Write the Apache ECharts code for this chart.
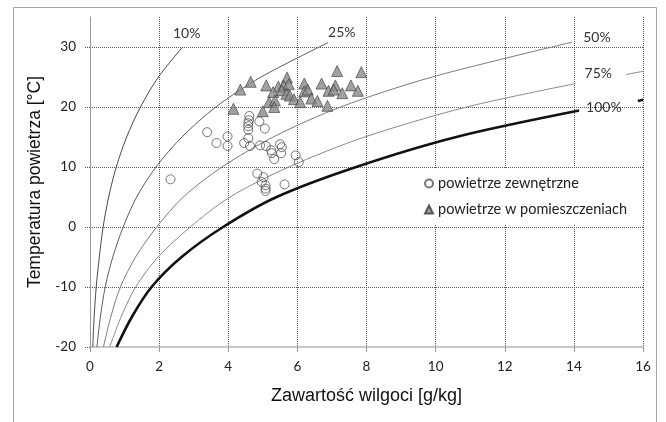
<!DOCTYPE html>
<html>
<head>
<meta charset="utf-8">
<title>Wykres Molliera</title>
<script src="https://cdn.jsdelivr.net/npm/echarts@6/dist/echarts.min.js"></script>
<style>
  html, body { margin: 0; padding: 0; background: #fff; }
  #chart { width: 666px; height: 422px; }
</style>
</head>
<body>
<div id="chart"></div>
<script>
// krzywe wilgotności względnej: temperatura [°C] i zawartość wilgoci [g/kg]
const temps10 = [-20, -15, -10, -5, 0, 5, 10, 15, 20, 25, 30];
const moist10 = [0.08, 0.12, 0.18, 0.27, 0.38, 0.54, 0.76, 1.06, 1.46, 1.98, 2.68];
const temps25 = [-20, -15, -10, -5, 0, 5, 10, 15, 20, 25, 30.7];
const moist25 = [0.2, 0.3, 0.44, 0.66, 0.96, 1.35, 1.91, 2.66, 3.64, 4.95, 6.88];
const temps50 = [-20, -15, -10, -5, 0, 5, 10, 15, 20, 25, 30.8];
const moist50 = [0.39, 0.6, 0.88, 1.32, 1.93, 2.7, 3.82, 5.3, 7.25, 9.9, 13.95];
const temps75 = [-20, -15, -10, -5, 0, 5, 10, 15, 20, 23.9];
const moist75 = [0.57, 0.9, 1.32, 1.97, 2.9, 4.05, 5.75, 7.95, 10.9, 14.05];
const temps100 = [-20, -15, -10, -5, 0, 5, 10, 15, 19.4];
const moist100 = [0.77, 1.21, 1.78, 2.65, 3.85, 5.4, 7.7, 10.6, 14.15];
// odcinki krzywych za etykietami (prawa krawędź)
const tail75Temps = [25.4, 25.95];
const tail75Moist = [15.5, 16];
const tail100Temps = [21.0, 21.2];
const tail100Moist = [15.85, 16];
const rhLabels = ['10%', '25%', '50%', '75%', '100%'];

// pomiary
const outdoorMoist = [4.61, 4.60, 4.58, 4.58, 4.58, 4.90, 5.06, 3.39, 3.66, 3.98, 3.98, 4.46, 4.58, 4.63, 4.92, 5.09,
  5.24, 5.26, 5.33, 5.50, 5.55, 5.53, 5.95, 6.04, 4.84, 5.02, 4.97, 5.08, 5.08, 5.08, 5.63, 2.33];
const outdoorTemp = [18.5, 17.8, 17.3, 16.8, 16.2, 17.6, 16.4, 15.8, 14.0, 15.1, 13.5, 14.0, 14.8, 13.5, 13.6, 13.5,
  12.8, 12.3, 11.3, 13.8, 13.3, 12.3, 11.95, 10.8, 8.9, 8.3, 7.5, 6.95, 6.4, 6.0, 7.1, 7.95];
const indoorMoist = [7.15, 7.85, 5.7, 4.65, 4.35, 5.1, 5.45, 5.6, 5.75, 6.2, 6.7, 7.1, 7.55, 5.3, 5.55, 5.68, 5.78,
  6.2, 6.3, 6.9, 7.05, 7.3, 7.75, 5.18, 5.35, 5.33, 5.9, 6.08, 6.4, 6.58, 6.87, 4.15, 5.0];
const indoorTemp = [26.0, 25.8, 24.9, 24.2, 22.9, 23.6, 23.4, 23.6, 23.8, 23.9, 23.9, 23.6, 23.6, 22.5, 22.8, 22.2, 21.9,
  22.6, 22.9, 22.7, 22.9, 22.3, 22.7, 20.8, 21.1, 20.0, 21.3, 20.8, 21.4, 21.0, 20.2, 19.7, 19.3];

const xTicks = [0, 16, 2];   // min, max, interval
const yTicks = [-20, 35, 10];

function pairs(xs, ys) {
  return xs.map((x, i) => [x, ys[i]]);
}

// ostatni punkt krzywej niesie etykietę
function curveData(xs, ys, text, pos, offset) {
  const d = pairs(xs, ys);
  const last = d.pop();
  d.push({
    value: last,
    label: { show: true, formatter: text, position: pos, offset: offset }
  });
  return d;
}

function curve(name, data, color, width) {
  return {
    name: name,
    type: 'line',
    data: data,
    smooth: 0.3,
    showSymbol: true,
    symbol: 'circle',
    symbolSize: 0,
    silent: true,
    lineStyle: { color: color, width: width },
    itemStyle: { color: color },
    label: { show: false, color: '#333', fontFamily: 'Lato', fontSize: 14 },
    z: 2
  };
}

const gridDots = { color: '#5a5a5a', type: [1, 1], width: 1 };

const chart = echarts.init(document.getElementById('chart'));
chart.setOption({
  animation: false,
  backgroundColor: '#fff',
  graphic: [{
    type: 'rect',
    shape: { x: 13.5, y: 7.5, width: 643, height: 440 },
    style: { fill: 'none', stroke: '#a6a6a6', lineWidth: 1 },
    silent: true
  }],
  grid: { left: 90, right: 23, top: 17, bottom: 75 },
  legend: {
    data: ['powietrze zewnętrzne', 'powietrze w pomieszczeniach'],
    orient: 'vertical',
    left: 414,
    top: 168,
    padding: [8, 14, 8, 10],
    itemGap: 11,
    itemWidth: 8,
    itemHeight: 8,
    backgroundColor: '#fff',
    textStyle: { fontFamily: 'Lato', fontSize: 14.5, color: '#222' }
  },
  xAxis: {
    type: 'value',
    min: xTicks[0],
    max: xTicks[1],
    interval: xTicks[2],
    name: 'Zawartość wilgoci [g/kg]',
    nameLocation: 'middle',
    nameGap: 40,
    nameTextStyle: { fontFamily: 'Liberation Sans', fontSize: 18, color: '#111' },
    axisLine: { onZero: false, lineStyle: { color: '#b5b5b5', width: 1.5 } },
    axisTick: { show: true, length: 5, lineStyle: { color: '#999' } },
    axisLabel: { margin: 13, fontFamily: 'Lato', fontSize: 13.5, color: '#222' },
    splitLine: { show: true, showMinLine: false, lineStyle: gridDots }
  },
  yAxis: {
    type: 'value',
    min: yTicks[0],
    max: yTicks[1],
    interval: yTicks[2],
    name: 'Temperatura powietrza [°C]',
    nameLocation: 'middle',
    nameGap: 41,
    nameTextStyle: { fontFamily: 'Liberation Sans', fontSize: 17.5, color: '#111' },
    axisLine: { show: true, onZero: false, lineStyle: { color: '#9a9a9a', width: 1 } },
    axisTick: { show: true, length: 6, lineStyle: gridDots },
    axisLabel: { margin: 14, fontFamily: 'Lato', fontSize: 13.5, color: '#222', showMaxLabel: false },
    splitLine: { show: true, showMinLine: false, showMaxLine: false, lineStyle: gridDots }
  },
  series: [
    curve(rhLabels[0], curveData(moist10, temps10, rhLabels[0], 'top', [4, -2]), '#4a4a4a', 1),
    curve(rhLabels[1], curveData(moist25, temps25, rhLabels[1], 'top', [14, 2]), '#5c5c5c', 1),
    curve(rhLabels[2], curveData(moist50, temps50, rhLabels[2], 'right', [6, -5]), '#7a7a7a', 1),
    curve(rhLabels[3], curveData(moist75, temps75, rhLabels[3], 'right', [4, -10]), '#8a8a8a', 1),
    curve(rhLabels[4], curveData(moist100, temps100, rhLabels[4], 'right', [2, -3]), '#111', 2.6),
    curve('75% b', pairs(tail75Moist, tail75Temps), '#8a8a8a', 1),
    curve('100% b', pairs(tail100Moist, tail100Temps), '#111', 2.6),
    {
      name: 'powietrze zewnętrzne',
      type: 'scatter',
      data: pairs(outdoorMoist, outdoorTemp),
      symbol: 'circle',
      symbolSize: 9,
      itemStyle: { color: 'rgba(255,255,255,0)', borderColor: '#555', borderWidth: 1 },
      z: 3
    },
    {
      name: 'powietrze w pomieszczeniach',
      type: 'scatter',
      data: pairs(indoorMoist, indoorTemp),
      symbol: 'triangle',
      symbolSize: 11,
      itemStyle: { color: '#8a8a8a', borderColor: '#3a3a3a', borderWidth: 0.8 },
      z: 4
    }
  ]
});
</script>
</body>
</html>
